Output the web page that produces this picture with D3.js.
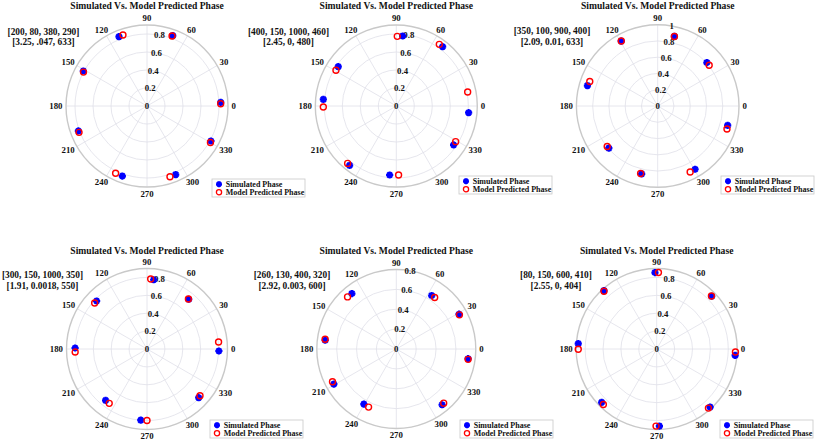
<!DOCTYPE html>
<html><head><meta charset="utf-8">
<script src="https://cdn.jsdelivr.net/npm/d3@7"></script>
<style>
html,body{margin:0;padding:0;background:#fff;}
svg{display:block;}
text{font-family:"Liberation Serif","Times New Roman",serif;font-weight:bold;fill:#111;}
</style></head>
<body>
<svg id="chart" width="817" height="443"></svg>
<script>
const titleText = "Simulated Vs. Model Predicted Phase";
const legendLabels = ["Simulated Phase", "Model Predicted Phase"];
const angleTicks = [0, 30, 60, 90, 120, 150, 180, 210, 240, 270, 300, 330];
const paramLine1 = ["[200, 80, 380, 290]", "[400, 150, 1000, 460]", "[350, 100, 900, 400]",
                    "[300, 150, 1000, 350]", "[260, 130, 400, 320]", "[80, 150, 600, 410]"];
const paramLine2 = ["[3.25, .047, 633]", "[2.45, 0, 480]", "[2.09, 0.01, 633]",
                    "[1.91, 0.0018, 550]", "[2.92, 0.003, 600]", "[2.55, 0, 404]"];
const rLimits = [0.9, 0.9, 1.0, 0.9, 0.8, 0.9];
const rTickSets = [
  [0, 0.2, 0.4, 0.6, 0.8],
  [0, 0.2, 0.4, 0.6, 0.8],
  [0, 0.2, 0.4, 0.6, 0.8, 1],
  [0, 0.2, 0.4, 0.6, 0.8],
  [0, 0.2, 0.4, 0.6, 0.8],
  [0, 0.2, 0.4, 0.6, 0.8]
];

// Simulated phase (angle in degrees, magnitude)
const p1SimTheta = [112.0, 69.9, 151.2, 2.8, 200.0, 331.3, 250.6, 292.7];
const p1SimR     = [0.831, 0.832, 0.807, 0.820, 0.811, 0.810, 0.825, 0.826];
const p1PredTheta = [108.7, 70.3, 151.9, 1.8, 201.2, 330.1, 245.0, 288.0];
const p1PredR     = [0.833, 0.826, 0.800, 0.819, 0.810, 0.813, 0.825, 0.826];

const p2SimTheta = [84.8, 52.0, 145.9, 354.7, 174.8, 325.8, 231.8, 264.5];
const p2SimR     = [0.781, 0.836, 0.779, 0.807, 0.814, 0.770, 0.839, 0.770];
const p2PredTheta = [89.2, 55.1, 149.4, 11.1, 180.8, 329.0, 229.7, 271.9];
const p2PredR     = [0.774, 0.835, 0.779, 0.808, 0.811, 0.769, 0.836, 0.767];

const p3SimTheta = [76.5, 119.3, 41.5, 163.8, 344.5, 220.8, 256.7, 300.6];
const p3SimR     = [0.880, 0.916, 0.807, 0.900, 0.893, 0.794, 0.858, 0.904];
const p3PredTheta = [76.5, 119.3, 38.4, 160.2, 341.6, 218.7, 255.8, 296.2];
const p3PredR     = [0.880, 0.916, 0.808, 0.888, 0.898, 0.796, 0.857, 0.904];

const p4SimTheta = [84.5, 50.0, 136.4, 358.4, 179.2, 316.7, 231.1, 265.0];
const p4SimR     = [0.778, 0.726, 0.778, 0.804, 0.804, 0.794, 0.737, 0.799];
const p4PredTheta = [87.0, 50.4, 138.7, 5.6, 182.4, 318.6, 235.2, 270.0];
const p4PredR     = [0.783, 0.726, 0.779, 0.804, 0.804, 0.790, 0.740, 0.800];

const p5SimTheta = [128.7, 56.5, 29.0, 173.0, 352.3, 209.3, 309.4, 239.5];
const p5SimR     = [0.715, 0.645, 0.722, 0.721, 0.729, 0.721, 0.726, 0.643];
const p5PredTheta = [133.1, 53.3, 28.4, 172.2, 351.8, 207.2, 311.2, 244.5];
const p5PredR     = [0.718, 0.646, 0.722, 0.723, 0.730, 0.722, 0.724, 0.648];

const p6SimTheta = [91.3, 43.8, 132.1, 355.4, 176.1, 312.6, 224.1, 272.0];
const p6SimR     = [0.855, 0.852, 0.880, 0.880, 0.879, 0.882, 0.857, 0.862];
const p6PredTheta = [88.7, 44.1, 132.4, 357.8, 180.2, 311.2, 226.1, 269.5];
const p6PredR     = [0.855, 0.852, 0.874, 0.881, 0.877, 0.878, 0.860, 0.862];

const simThetas = [p1SimTheta, p2SimTheta, p3SimTheta, p4SimTheta, p5SimTheta, p6SimTheta];
const simRs = [p1SimR, p2SimR, p3SimR, p4SimR, p5SimR, p6SimR];
const predThetas = [p1PredTheta, p2PredTheta, p3PredTheta, p4PredTheta, p5PredTheta, p6PredTheta];
const predRs = [p1PredR, p2PredR, p3PredR, p4PredR, p5PredR, p6PredR];

// layout
const layout = [
  {cx: 147,   cy: 106, R: 81,   titleY: 9.4, pX: 43.5, pY: 34.8, lx: 212, ly: 179},
  {cx: 396.3, cy: 106, R: 81,   titleY: 9.4, pX: 288.5, pY: 34.8, lx: 459, ly: 176},
  {cx: 657.7, cy: 106, R: 81.3, titleY: 9.4, pX: 552,  pY: 34.1, lx: 721, ly: 176},
  {cx: 147,   cy: 349, R: 80.5, titleY: 253.7, pX: 42.5, pY: 278, lx: 210, ly: 420},
  {cx: 396.3, cy: 349, R: 79.5, titleY: 253.7, pX: 292, pY: 278, lx: 460, ly: 420},
  {cx: 656.7, cy: 349, R: 80.5, titleY: 253.7, pX: 556, pY: 278, lx: 720, ly: 420}
];

const svg = d3.select("#chart");
const rad = d => d * Math.PI / 180;

function starPath(s) {
  const a = s, b = s * 0.7071;
  return `M${-a},0L${a},0M0,${-a}L0,${a}M${-b},${-b}L${b},${b}M${-b},${b}L${b},${-b}`;
}

layout.forEach((L, i) => {
  const g = svg.append("g").attr("transform", `translate(${L.cx},${L.cy})`);
  const r = d3.scaleLinear().domain([0, rLimits[i]]).range([0, L.R]);
  const px = (t, v) => r(v) * Math.cos(rad(t));
  const py = (t, v) => -r(v) * Math.sin(rad(t));

  // grid circles
  g.selectAll("circle.grid").data(rTickSets[i].filter(v => v > 0 && v < rLimits[i] - 1e-9))
    .join("circle").attr("class", "grid")
    .attr("r", d => r(d)).attr("fill", "none")
    .attr("stroke", "#e0e0e8").attr("stroke-width", 0.8);
  // spokes
  g.selectAll("line.spoke").data(angleTicks).join("line").attr("class", "spoke")
    .attr("x1", 0).attr("y1", 0)
    .attr("x2", d => px(d, rLimits[i])).attr("y2", d => py(d, rLimits[i]))
    .attr("stroke", "#e0e0e8").attr("stroke-width", 0.8);
  // outer rim
  g.append("circle").attr("r", r(rLimits[i])).attr("fill", "none")
    .attr("stroke", "#c9c9c9").attr("stroke-width", 1.4);

  // angle labels
  const labR = L.R + 3.5;
  g.selectAll("text.ang").data(angleTicks).join("text").attr("class", "ang")
    .attr("font-size", 8.8)
    .attr("text-anchor", "middle")
    .attr("dominant-baseline", "central")
    .text(d => d)
    .each(function(d) {
      const w = this.getComputedTextLength();
      const h = 6.6;
      const c = Math.cos(rad(d)), s = Math.sin(rad(d));
      d3.select(this)
        .attr("x", labR * c + c * w / 2)
        .attr("y", -labR * s - s * h / 2);
    });

  // radial tick labels along 80 degrees
  g.selectAll("text.rt").data(rTickSets[i]).join("text").attr("class", "rt")
    .attr("font-size", 8.8)
    .attr("text-anchor", "middle")
    .attr("dominant-baseline", "central")
    .attr("x", d => px(80, d)).attr("y", d => py(80, d))
    .text(d => d3.format("")(d));

  // simulated markers
  const sim = simThetas[i].map((t, k) => ({t, v: simRs[i][k]}));
  const pred = predThetas[i].map((t, k) => ({t, v: predRs[i][k]}));
  g.selectAll("path.sim").data(sim).join("path").attr("class", "sim")
    .attr("d", starPath(3.6))
    .attr("transform", d => `translate(${px(d.t, d.v)},${py(d.t, d.v)})`)
    .attr("stroke", "#0000ff").attr("stroke-width", 2.2).attr("fill", "none");
  g.selectAll("circle.pred").data(pred).join("circle").attr("class", "pred")
    .attr("cx", d => px(d.t, d.v)).attr("cy", d => py(d.t, d.v))
    .attr("r", 3).attr("fill", "none")
    .attr("stroke", "#ff0000").attr("stroke-width", 1.4);

  // title
  svg.append("text").attr("x", L.cx).attr("y", L.titleY)
    .attr("text-anchor", "middle").attr("font-size", 9.6).text(titleText);

  // parameter annotation
  svg.append("text").attr("x", L.pX).attr("y", L.pY)
    .attr("text-anchor", "middle").attr("font-size", 9.4).text(paramLine1[i]);
  svg.append("text").attr("x", L.pX).attr("y", L.pY + 10.6)
    .attr("text-anchor", "middle").attr("font-size", 9.4).text(paramLine2[i]);

  // legend
  const lg = svg.append("g").attr("transform", `translate(${L.lx},${L.ly})`);
  lg.append("rect").attr("width", 93).attr("height", 18)
    .attr("fill", "#fff").attr("stroke", "#c8c8c8").attr("stroke-width", 0.8);
  lg.append("path").attr("d", starPath(3))
    .attr("transform", "translate(7,5.2)")
    .attr("stroke", "#0000ff").attr("stroke-width", 2).attr("fill", "none");
  lg.append("circle").attr("cx", 7).attr("cy", 13.2).attr("r", 2.6)
    .attr("fill", "none").attr("stroke", "#ff0000").attr("stroke-width", 1.3);
  lg.selectAll("text").data(legendLabels).join("text")
    .attr("x", 13.7).attr("y", (d, k) => 5.2 + k * 8)
    .attr("dominant-baseline", "central")
    .attr("font-size", 8).text(d => d);
});
</script>
</body></html>
